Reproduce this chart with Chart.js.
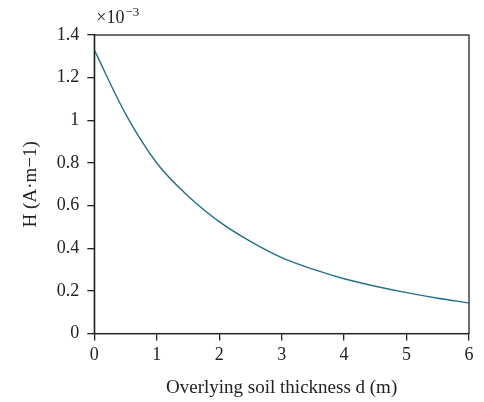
<!DOCTYPE html>
<html>
<head>
<meta charset="utf-8">
<script src="https://cdn.jsdelivr.net/npm/chart.js@4.4.1/dist/chart.umd.min.js"></script>
<style>
    html, body { margin: 0; padding: 0; background: #fff; }
    #wrap { width: 484px; height: 402px; }
</style>
</head>
<body>
<div id="wrap"><canvas id="chart" width="484" height="402"></canvas></div>
<script>
// Overlying soil thickness d (m)
const thickness = [0, 0.5, 1, 1.5, 2, 2.5, 3, 3.5, 4, 4.5, 5, 5.5, 6];
// Magnetic field intensity H, in units of 1e-3 A/m
const fieldH = [1.33, 1.03, 0.80, 0.645, 0.525, 0.432, 0.356, 0.302, 0.257, 0.222, 0.192, 0.166, 0.144];

const xTicks = [0, 1, 2, 3, 4, 5, 6];
const yTicks = [0, 0.2, 0.4, 0.6, 0.8, 1, 1.2, 1.4];

const serif = '"Liberation Serif", "Times New Roman", serif';
const axisColor = '#222';

// frame around the plot area plus the exponent label above the y axis
const framePlugin = {
    id: 'frame',
    afterDraw(chart) {
        const { ctx, chartArea: a } = chart;
        ctx.save();
        ctx.strokeStyle = axisColor;
        ctx.lineWidth = 1.3;
        ctx.strokeRect(a.left, a.top, a.right - a.left, a.bottom - a.top);

        ctx.fillStyle = '#222';
        ctx.textBaseline = 'alphabetic';
        ctx.font = '18px ' + serif;
        const base = '\u00d710';
        ctx.fillText(base, a.left + 2, a.top - 12);
        const w = ctx.measureText(base).width;
        ctx.font = '13px ' + serif;
        ctx.fillText('\u22123', a.left + 2 + w + 1, a.top - 19);
        ctx.restore();
    }
};

new Chart(document.getElementById('chart'), {
    type: 'line',
    data: {
        datasets: [{
            data: thickness.map((d, i) => ({ x: d, y: fieldH[i] })),
            borderColor: '#23708c',
            borderWidth: 1.4,
            pointRadius: 0,
            cubicInterpolationMode: 'monotone',
            fill: false
        }]
    },
    options: {
        responsive: false,
        animation: false,
        layout: { padding: { top: 35, right: 15, left: 20, bottom: 3 } },
        plugins: { legend: { display: false }, tooltip: { enabled: false } },
        scales: {
            x: {
                type: 'linear',
                min: 0,
                max: 6,
                afterBuildTicks: (s) => { s.ticks = xTicks.map(v => ({ value: v })); },
                grid: { display: true, drawOnChartArea: false, drawTicks: true, tickLength: 7, tickColor: axisColor, lineWidth: 1.3 },
                border: { display: true, color: axisColor, width: 1.3 },
                ticks: { color: '#222', font: { family: serif, size: 18 }, padding: 4, maxRotation: 0 },
                title: { display: true, text: 'Overlying soil thickness d (m)', color: '#222', font: { family: serif, size: 19 }, padding: { top: 6, bottom: 0 } }
            },
            y: {
                type: 'linear',
                min: 0,
                max: 1.4,
                afterBuildTicks: (s) => { s.ticks = yTicks.map(v => ({ value: v })); },
                grid: { display: true, drawOnChartArea: false, drawTicks: true, tickLength: 7, tickColor: axisColor, lineWidth: 1.3 },
                border: { display: true, color: axisColor, width: 1.3 },
                ticks: { color: '#222', font: { family: serif, size: 18 }, padding: 8,
                    callback: (v) => String(Math.round(v * 10) / 10) },
                title: { display: true, text: 'H (A\u00b7m\u22121)', color: '#222', font: { family: serif, size: 19 }, padding: { top: 0, bottom: 6 } }
            }
        }
    },
    plugins: [framePlugin]
});
</script>
</body>
</html>
